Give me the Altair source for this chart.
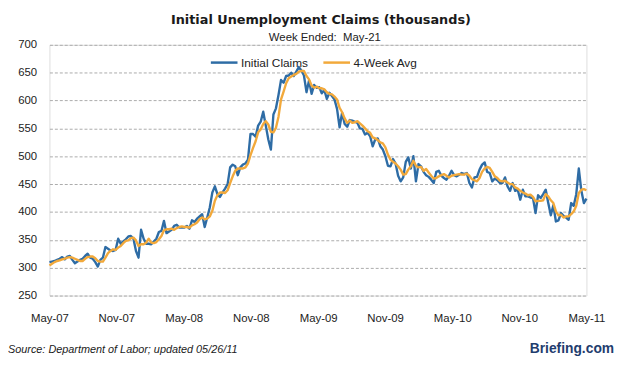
import altair as alt
import pandas as pd

# ---- data (thousands), weekly, week ended May 5 2007 ... May 21 2011 ----
first_week = "2007-05-05"
last_week = "2011-05-21"

initial_claims = [
    310, 311, 312, 314, 316, 319, 315, 320, 321, 314, 308, 311, 314, 316, 321, 325, 318, 316, 310, 302,
    314, 318, 337, 334, 331, 330, 332, 352, 343, 347, 351, 356, 357, 352, 330, 318, 368, 352, 343, 343,
    342, 347, 352, 364, 366, 384, 362, 365, 368, 375, 377, 372, 372, 372, 375, 370, 385, 382, 388, 392,
    396, 373, 390, 408, 435, 446, 432, 427, 435, 442, 450, 480, 485, 482, 466, 480, 485, 487, 494, 540,
    540, 535, 555, 562, 580, 555, 530, 512, 575, 586, 610, 637, 632, 644, 645, 650, 644, 652, 660, 654,
    645, 615, 636, 612, 628, 623, 624, 613, 619, 603, 614, 608, 602, 585, 552, 578, 558, 553, 565, 564,
    562, 560, 550, 549, 539, 542, 536, 518, 530, 532, 518, 512, 500, 483, 482, 495, 487, 465, 455, 462,
    490, 498, 478, 500, 455, 486, 482, 472, 466, 463, 458, 452, 472, 474, 465, 461, 458, 465, 474, 466,
    464, 467, 470, 468, 470, 452, 444, 462, 463, 476, 485, 489, 472, 470, 455, 460, 457, 452, 452, 462,
    446, 438, 452, 438, 440, 422, 440, 428, 428, 426, 425, 398, 430, 425, 432, 440, 416, 394, 412, 383,
    385, 398, 393, 390, 386, 416, 411, 432, 478, 438, 416, 424,
]

four_week_avg = [
    304, 307, 310, 312, 313, 315, 316, 318, 319, 318, 316, 314, 312, 312, 316, 319, 320, 320, 317, 312,
    311, 311, 318, 326, 330, 333, 332, 336, 339, 344, 348, 349, 353, 354, 349, 339, 342, 342, 345, 352,
    345, 344, 346, 351, 357, 367, 369, 369, 370, 368, 371, 373, 374, 373, 373, 372, 376, 378, 381, 387,
    390, 387, 388, 392, 402, 420, 430, 435, 435, 434, 439, 452, 464, 474, 478, 478, 478, 480, 487, 502,
    515, 527, 543, 548, 558, 563, 557, 544, 543, 551, 571, 602, 616, 631, 640, 643, 646, 648, 652, 653,
    653, 644, 638, 627, 623, 625, 622, 622, 620, 615, 612, 611, 607, 602, 587, 579, 568, 560, 564, 560,
    561, 563, 559, 555, 550, 545, 542, 534, 532, 529, 525, 523, 516, 503, 494, 490, 487, 482, 476, 467,
    468, 476, 482, 492, 483, 480, 481, 474, 477, 471, 465, 460, 461, 464, 466, 468, 465, 462, 465, 466,
    467, 468, 467, 467, 469, 465, 459, 457, 455, 461, 472, 478, 481, 479, 472, 464, 461, 456, 455, 456,
    453, 450, 450, 444, 442, 438, 435, 433, 430, 431, 427, 419, 420, 420, 421, 432, 428, 421, 416, 401,
    394, 395, 390, 392, 392, 396, 401, 411, 434, 440, 441, 439,
]

series_names = ["Initial Claims", "4-Week Avg"]
series_colors = ["#2E6CA5", "#F2A93B"]

y_ticks = [250, 300, 350, 400, 450, 500, 550, 600, 650, 700]
x_tick_dates = ["2007-05-05", "2007-11-05", "2008-05-08", "2008-11-09", "2009-05-13",
                "2009-11-13", "2010-05-17", "2010-11-17", "2011-05-21"]

title_text = "Initial Unemployment Claims (thousands)"
subtitle_text = "Week Ended:\u00a0 May-21"
source_text = "Source: Department of Labor; updated 05/26/11"
brand_text = "Briefing.com"

# ---- tables ----
n = len(initial_claims)
weeks = pd.date_range(end=last_week, periods=n, freq="7D").strftime("%Y-%m-%dT00:00:00")
df_claims = pd.DataFrame({"week": weeks, "value": initial_claims, "series": series_names[0]})
df_avg = pd.DataFrame({"week": weeks, "value": four_week_avg, "series": series_names[1]})


def to_dt(s):
    y, m, d = (int(p) for p in s.split("-"))
    return alt.DateTime(year=y, month=m, date=d)


W, H = 544, 254
FONT = "Liberation Sans"

x_enc = alt.X(
    "week:T",
    scale=alt.Scale(domain=[to_dt(first_week), to_dt(last_week)]),
    axis=alt.Axis(
        values=[to_dt(s) for s in x_tick_dates],
        format="%b-%y",
        title=None,
        grid=False,
        ticks=False,
        domain=False,
        labelFlush=False,
        labelOverlap=False,
        labelPadding=17,
        labelFont=FONT,
        labelFontSize=11.5,
        labelColor="#222222",
    ),
)
y_enc = alt.Y(
    "value:Q",
    scale=alt.Scale(domain=[250, 700], nice=False, zero=False),
    axis=alt.Axis(
        values=y_ticks,
        title=None,
        grid=True,
        gridDash=[3, 2],
        gridColor="#ababab",
        gridWidth=1,
        ticks=False,
        domain=False,
        labelPadding=13,
        labelFont=FONT,
        labelFontSize=11.5,
        labelColor="#222222",
    ),
)
color_enc = alt.Color(
    "series:N",
    scale=alt.Scale(domain=series_names, range=series_colors),
    legend=alt.Legend(
        orient="none",
        legendX=162,
        legendY=3,
        direction="horizontal",
        title=None,
        symbolType="stroke",
        symbolStrokeWidth=2.5,
        symbolSize=729,
        labelFont=FONT,
        labelFontSize=12,
        labelColor="#222222",
        labelOffset=2,
        columnPadding=9,
        padding=0,
    ),
)

claims_line = alt.Chart(df_claims).mark_line(strokeWidth=2.4, strokeJoin="round").encode(
    x=x_enc, y=y_enc, color=color_enc
)
avg_line = alt.Chart(df_avg).mark_line(strokeWidth=2.4, strokeJoin="round").encode(
    x=x_enc, y=y_enc, color=color_enc
)

title_mark = alt.Chart(pd.DataFrame({"t": [title_text]})).mark_text(
    font="DejaVu Sans", fontSize=13, fontWeight="bold", color="#1a1a1a", align="center", baseline="middle"
).encode(text="t:N", x=alt.value(275), y=alt.value(-25))

subtitle_mark = alt.Chart(pd.DataFrame({"t": [subtitle_text]})).mark_text(
    font=FONT, fontSize=11.5, color="#222222", align="center", baseline="middle"
).encode(text="t:N", x=alt.value(279), y=alt.value(-7))

source_mark = alt.Chart(pd.DataFrame({"t": [source_text]})).mark_text(
    font=FONT, fontSize=11, fontStyle="italic", color="#1a1a1a", align="left", baseline="middle"
).encode(text="t:N", x=alt.value(-42), y=alt.value(309))

brand_mark = alt.Chart(pd.DataFrame({"t": [brand_text]})).mark_text(
    font=FONT, fontSize=14, fontWeight="bold", color="#1F3D6E", align="right", baseline="middle"
).encode(text="t:N", x=alt.value(572), y=alt.value(308))

chart = (
    alt.layer(claims_line, avg_line, title_mark, subtitle_mark, source_mark, brand_mark)
    .properties(
        width=W,
        height=H,
        autosize=alt.AutoSizeParams(type="none"),
        padding={"left": 42, "top": 35, "right": 34, "bottom": 64},
    )
    .configure_view(stroke=None)
    .configure(background="white")
)

chart.save("out.html", embed_options={"renderer": "svg", "actions": False})
